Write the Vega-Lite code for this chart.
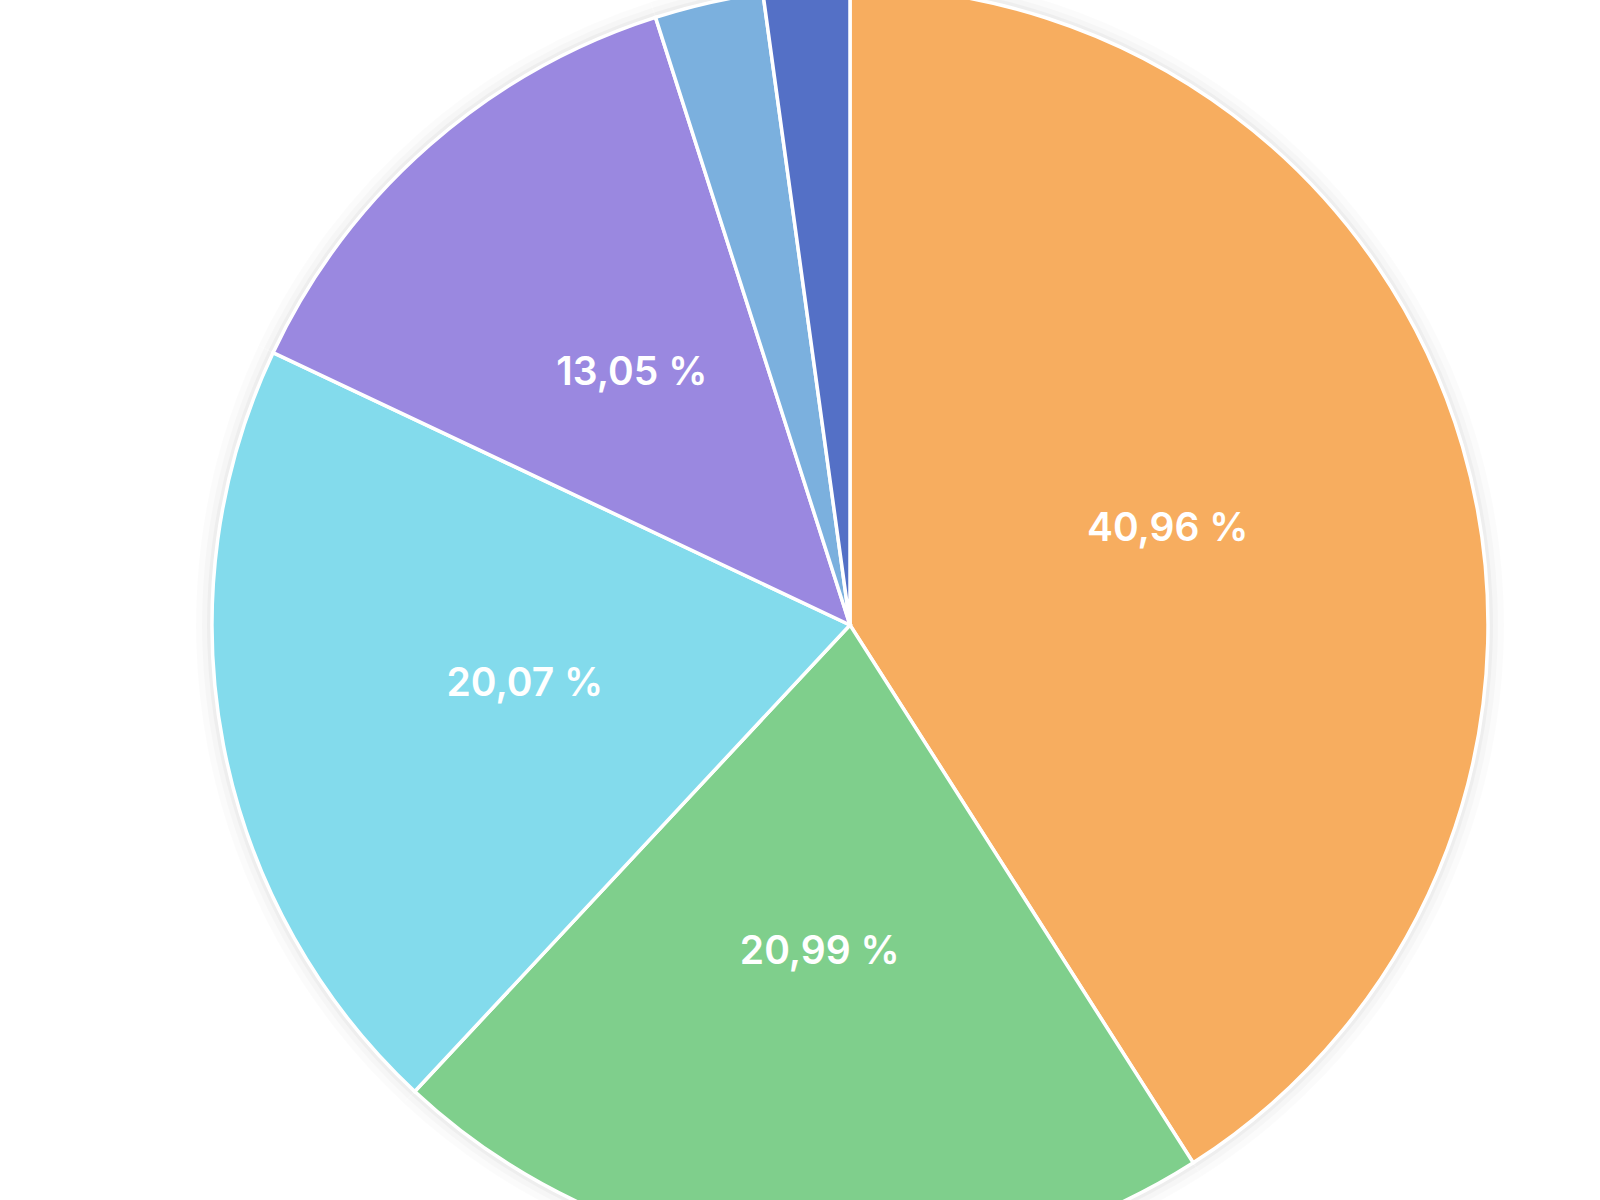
{
  "$schema": "https://vega.github.io/schema/vega-lite/v6.json",
  "autosize": {"type": "none"},
  "width": 1500,
  "height": 1150,
  "padding": {"left": 100, "top": 50, "right": 0, "bottom": 0},
  "background": "#ffffff",
  "config": {"view": {"stroke": null}},
  "data": {
    "values": [
      {"category": "A", "share": 40.96, "label": "40,96 %", "rank": 1},
      {"category": "B", "share": 20.99, "label": "20,99 %", "rank": 2},
      {"category": "C", "share": 20.07, "label": "20,07 %", "rank": 3},
      {"category": "D", "share": 13.05, "label": "13,05 %", "rank": 4},
      {"category": "E", "share": 2.75, "label": "", "rank": 5},
      {"category": "F", "share": 2.18, "label": "", "rank": 6}
    ]
  },
  "encoding": {
    "theta": {"field": "share", "type": "quantitative", "stack": true},
    "order": {"field": "rank", "type": "quantitative"}
  },
  "layer": [
    {
      "mark": {"type": "arc", "radius": 654, "color": "#000000", "opacity": 0.015},
      "encoding": {}
    },
    {
      "mark": {"type": "arc", "radius": 648, "color": "#000000", "opacity": 0.02},
      "encoding": {}
    },
    {
      "mark": {"type": "arc", "radius": 643, "color": "#000000", "opacity": 0.03},
      "encoding": {}
    },
    {
      "mark": {"type": "arc", "radius": 638, "stroke": "#ffffff", "strokeWidth": 3.5},
      "encoding": {
        "color": {
          "field": "category",
          "type": "nominal",
          "scale": {
            "domain": ["A", "B", "C", "D", "E", "F"],
            "range": ["#F7AD5F", "#7FCF8C", "#83DBEC", "#9A88E0", "#7BB0DE", "#5470C6"]
          },
          "legend": null
        }
      }
    },
    {
      "mark": {
        "type": "text",
        "radius": 331,
        "dy": -3,
        "font": "Inter",
        "fontSize": 39,
        "fontWeight": 600,
        "fill": "#ffffff",
        "align": "center",
        "baseline": "middle"
      },
      "encoding": {
        "text": {"field": "label", "type": "nominal"}
      }
    }
  ]
}
